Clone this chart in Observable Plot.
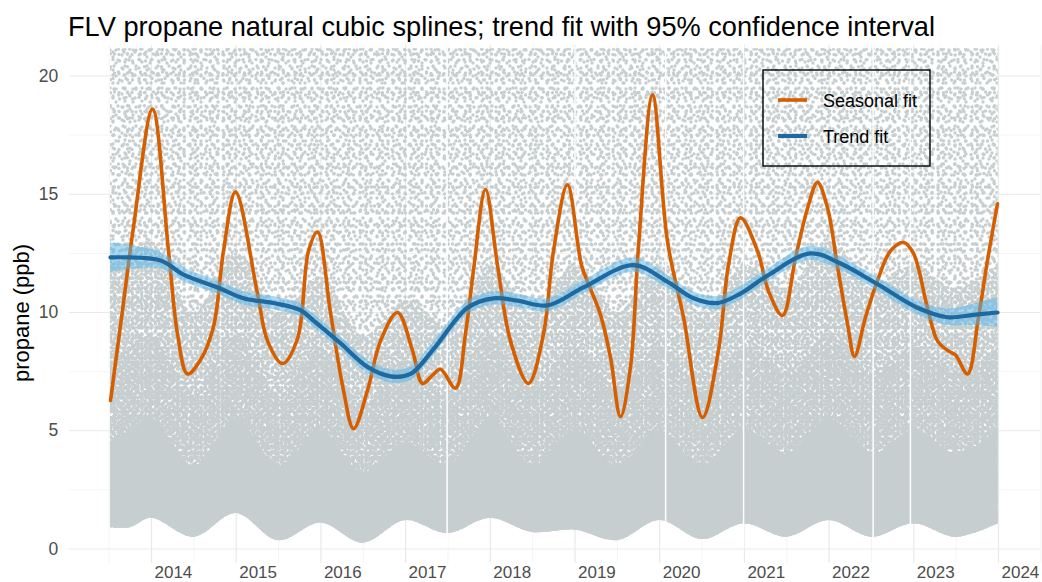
<!DOCTYPE html>
<html><head><meta charset="utf-8">
<script src="https://cdn.jsdelivr.net/npm/d3@7"></script>
<script src="https://cdn.jsdelivr.net/npm/@observablehq/plot@0.6"></script>
<style>
html,body{margin:0;padding:0;background:#fff;}
#wrap{position:relative;width:1042px;height:582px;overflow:hidden;font-family:"Liberation Sans",Arial,Helvetica,sans-serif;}
#wrap svg{position:absolute;left:0;top:0;}
</style></head><body><div id="wrap"></div>
<script>
// ---------- data ----------
const seasonalYear = [2013.516,2013.658,2013.787,2014.012,2014.201,2014.307,2014.425,2014.579,2014.732,2014.850,2014.992,2015.251,2015.370,2015.547,2015.724,2015.854,2015.960,2016.113,2016.267,2016.385,2016.550,2016.704,2016.904,2017.081,2017.199,2017.318,2017.412,2017.589,2017.707,2017.802,2017.943,2018.085,2018.238,2018.451,2018.628,2018.746,2018.911,2019.077,2019.183,2019.301,2019.419,2019.537,2019.655,2019.750,2019.915,2020.092,2020.281,2020.506,2020.694,2020.812,2020.954,2021.155,2021.285,2021.450,2021.603,2021.745,2021.863,2021.983,2022.101,2022.219,2022.300,2022.430,2022.571,2022.724,2022.878,2022.996,2023.161,2023.279,2023.398,2023.492,2023.634,2023.764,2023.870,2023.988];
const seasonalValue = [6.28,10.1,13.6,18.6,12.6,9.1,7.4,8.0,9.4,12.6,15.1,10.8,8.8,7.84,8.9,12.6,13.4,10.0,6.7,5.09,6.7,8.8,10.0,8.4,7.0,7.35,7.6,6.8,9.1,11.8,15.2,12.0,8.8,7.0,9.1,12.6,15.4,12.0,11.0,9.9,8.1,5.6,7.7,12.8,19.2,13.0,9.8,5.56,8.4,12.0,14.0,12.6,10.9,9.87,12.3,14.4,15.5,14.4,11.9,9.5,8.14,9.8,11.35,12.6,12.96,12.5,10.2,8.8,8.4,8.2,7.4,9.8,12.2,14.6];

const trendYear = [2013.516,2014.106,2014.378,2014.779,2015.086,2015.440,2015.759,2015.913,2016.232,2016.550,2016.822,2017.058,2017.330,2017.731,2018.038,2018.321,2018.675,2019.100,2019.691,2020.092,2020.399,2020.682,2020.954,2021.273,2021.780,2022.134,2022.571,2023.043,2023.398,2023.705,2023.988];
const trendValue = [12.33,12.2,11.6,11.06,10.6,10.4,10.1,9.66,8.7,7.7,7.3,7.4,8.45,10.2,10.6,10.5,10.3,11.06,12.0,11.3,10.6,10.4,10.8,11.56,12.5,12.07,11.2,10.2,9.8,9.9,10.0];
const trendHalfCI = [0.62,0.35,0.3,0.28,0.28,0.28,0.28,0.28,0.28,0.28,0.28,0.28,0.28,0.28,0.28,0.28,0.28,0.28,0.3,0.28,0.28,0.28,0.28,0.28,0.3,0.28,0.28,0.3,0.35,0.45,0.62];

// observation cloud summarised as envelopes: bottom, solid part, speckled part, dense part, top
const cloudYear = [2013.516,2013.75,2014.0,2014.5,2015.0,2015.5,2016.0,2016.5,2017.0,2017.5,2018.0,2018.5,2019.0,2019.5,2020.0,2020.5,2021.0,2021.5,2022.0,2022.5,2023.0,2023.5,2023.995];
const cloudLow = [0.9,0.9,1.3,0.5,1.5,0.35,1.1,0.25,1.2,0.65,1.3,0.7,0.8,0.35,1.2,0.4,1.07,0.5,1.2,0.5,1.07,0.5,1.07];
const cloudSolidTop = [4.5,5,5.5,3.5,5.5,3.5,5,3.2,4.5,3.5,5.5,3.5,5,3.5,5,3.5,5,4,5.5,4,5,4,5];
const cloudMidTop = [8,8.5,9,6.5,9,6.5,8.5,6,8,6.5,9,6.8,8.5,6.8,8.5,6.8,8.5,7.5,9,7.5,8.5,7.5,8.5];
const cloudDenseTop = [12,12.5,13,10,12.5,10,11.5,9,10.5,9.5,12,10,12,10,12,10,12,11,13,11,12,11,12];
const cloudTop = [21.15,21.15,21.15,21.15,21.15,21.15,21.15,21.15,21.15,21.15,21.15,21.15,21.15,21.15,21.15,21.15,21.15,21.15,21.15,21.15,21.15,21.15,21.15];

// gaps in the record
const gapYear = [2017.49,2019.0,2020.07,2020.99,2022.52,2022.96];
const gapFrom = [0,13,0,0,0,0];
const gapTo = [21.2,21.2,21.2,21.2,21.2,21.2];

const yTicks = [0,5,10,15,20];
const yMinor = [2.5,7.5,12.5,17.5];
const xTicks = [2014,2015,2016,2017,2018,2019,2020,2021,2022,2023,2024];
const xMinor = [2013.5,2014.5,2015.5,2016.5,2017.5,2018.5,2019.5,2020.5,2021.5,2022.5,2023.5,2024.5];

const titleText = "FLV propane natural cubic splines; trend fit with 95% confidence interval";
const yLabel = "propane (ppb)";
const legendLabels = ["Seasonal fit","Trend fit"];

// ---------- tables ----------
const seasonal = seasonalYear.map((x,i)=>({x, v: seasonalValue[i]}));
const trend = trendYear.map((x,i)=>({x, v: trendValue[i], lo: trendValue[i]-trendHalfCI[i], hi: trendValue[i]+trendHalfCI[i]}));
const cloud = cloudYear.map((x,i)=>({x, low: cloudLow[i], solid: cloudSolidTop[i], mid: cloudMidTop[i], dense: cloudDenseTop[i], top: cloudTop[i]}));
const gaps = gapYear.map((x,i)=>({x, y1: gapFrom[i], y2: gapTo[i]}));

// ---------- styles ----------
const ORANGE = "#D55E00", BLUE = "#1E6AA0", BAND = "#56B4E9", DOT = "#c6cecf";
const dotR = 1.7;
const patterns = [
  {id:"pA", w:17, h:13, dots:[[3,3],[11,5],[6,10],[14,11],[8.5,1.8]]},
  {id:"pB", w:13, h:19, dots:[[2.5,4],[9,2.5],[6,12],[10.5,16],[2,16.5]]},
  {id:"pC", w:11, h:23, dots:[[3,6],[8,14],[4,20],[8.5,3]]},
  {id:"pD", w:9, h:10, dots:[[2,2],[6.5,4],[3,7.5],[7,8.3]]},
  {id:"pE", w:10, h:7, dots:[[2,5],[5.5,2],[8,5.2]]},
  {id:"pF", w:7, h:9, dots:[[2,2],[5,5],[2.2,7.3]]},
  {id:"pG", w:8, h:6, dots:[[2,2],[6,4]]}
];
const cloudCurve = "catmull-rom";

const chart = Plot.plot({
  width: 1042, height: 582,
  marginLeft: 68.84, marginRight: 1.65, marginTop: 44.75, marginBottom: 19.31,
  style: {fontFamily: "'Liberation Sans', Arial, Helvetica, sans-serif", background: "white"},
  x: {domain: [2013.03, 2024.5], label: null},
  y: {domain: [-0.6, 21.3], label: null},
  marks: [
    Plot.gridY(yMinor, {stroke: "#f1f1f1", strokeOpacity: 1, strokeWidth: 0.8}),
    Plot.gridX(xMinor, {stroke: "#f1f1f1", strokeOpacity: 1, strokeWidth: 0.8}),
    Plot.gridY(yTicks, {stroke: "#e9e9e9", strokeOpacity: 1, strokeWidth: 1.2}),
    Plot.gridX(xTicks, {stroke: "#e9e9e9", strokeOpacity: 1, strokeWidth: 1.2}),
    // observation cloud
    Plot.areaY(cloud, {x: "x", y1: "low", y2: "top", fill: "url(#pA)", curve: cloudCurve}),
    Plot.areaY(cloud, {x: "x", y1: "low", y2: "top", fill: "url(#pB)", curve: cloudCurve}),
    Plot.areaY(cloud, {x: "x", y1: "low", y2: "top", fill: "url(#pC)", curve: cloudCurve}),
    Plot.areaY(cloud, {x: "x", y1: "low", y2: "dense", fill: "url(#pD)", curve: cloudCurve}),
    Plot.areaY(cloud, {x: "x", y1: "low", y2: "dense", fill: "url(#pE)", curve: cloudCurve}),
    Plot.areaY(cloud, {x: "x", y1: "low", y2: "mid", fill: "url(#pF)", curve: cloudCurve}),
    Plot.areaY(cloud, {x: "x", y1: "low", y2: "mid", fill: "url(#pG)", curve: cloudCurve}),
    Plot.areaY(cloud, {x: "x", y1: "low", y2: "solid", fill: DOT, curve: cloudCurve}),
    Plot.ruleX(gaps, {x: "x", y1: "y1", y2: "y2", stroke: "white", strokeWidth: 1.5}),
    // fits
    Plot.line(seasonal, {x: "x", y: "v", stroke: ORANGE, strokeWidth: 3.6, curve: "catmull-rom"}),
    Plot.areaY(trend, {x: "x", y1: "lo", y2: "hi", fill: BAND, fillOpacity: 0.5, curve: "catmull-rom"}),
    Plot.line(trend, {x: "x", y: "v", stroke: BLUE, strokeWidth: 4.2, curve: "catmull-rom"}),
    // axes
    Plot.axisY(yTicks, {tickSize: 0, tickPadding: 11, fontSize: 17.5, fill: "#4d4d4d", label: null}),
    Plot.axisX(xTicks, {tickSize: 0, tickPadding: 3, fontSize: 17, fill: "#4d4d4d", textAnchor: "start", dx: 3, label: null, tickFormat: d => String(d)})
  ]
});

const svg = chart.tagName.toLowerCase() === "svg" ? chart : chart.querySelector("svg");
const NS = "http://www.w3.org/2000/svg";
const defs = document.createElementNS(NS, "defs");
for (const p of patterns) {
  const pat = document.createElementNS(NS, "pattern");
  pat.setAttribute("id", p.id);
  pat.setAttribute("patternUnits", "userSpaceOnUse");
  pat.setAttribute("width", p.w);
  pat.setAttribute("height", p.h);
  for (const [cx, cy] of p.dots) {
    const c = document.createElementNS(NS, "circle");
    c.setAttribute("cx", cx); c.setAttribute("cy", cy); c.setAttribute("r", dotR);
    c.setAttribute("fill", DOT);
    pat.appendChild(c);
  }
  defs.appendChild(pat);
}
svg.insertBefore(defs, svg.firstChild);
document.getElementById("wrap").appendChild(chart);

// ---------- annotations overlay (title, axis title, legend) ----------
const ov = document.createElementNS(NS, "svg");
ov.setAttribute("width", 1042); ov.setAttribute("height", 582);
ov.setAttribute("font-family", "'Liberation Sans', Arial, Helvetica, sans-serif");
ov.style.pointerEvents = "none";
function el(tag, attrs, text) {
  const e = document.createElementNS(NS, tag);
  for (const k in attrs) e.setAttribute(k, attrs[k]);
  if (text != null) e.textContent = text;
  ov.appendChild(e);
  return e;
}
el("text", {x: 68, y: 36, "font-size": 27.2, fill: "#000"}, titleText);
el("text", {transform: "translate(29,313) rotate(-90)", "text-anchor": "middle", "font-size": 22, fill: "#000"}, yLabel);
el("rect", {x: 763, y: 70, width: 167, height: 96, fill: "none", stroke: "#000", "stroke-width": 1.4});
el("line", {x1: 778, x2: 807, y1: 100, y2: 100, stroke: ORANGE, "stroke-width": 3.6});
el("line", {x1: 778, x2: 807, y1: 136, y2: 136, stroke: BLUE, "stroke-width": 4.2});
el("text", {x: 823, y: 106.5, "font-size": 18, fill: "#000"}, legendLabels[0]);
el("text", {x: 823, y: 142.5, "font-size": 18, fill: "#000"}, legendLabels[1]);
document.getElementById("wrap").appendChild(ov);
</script></body></html>
